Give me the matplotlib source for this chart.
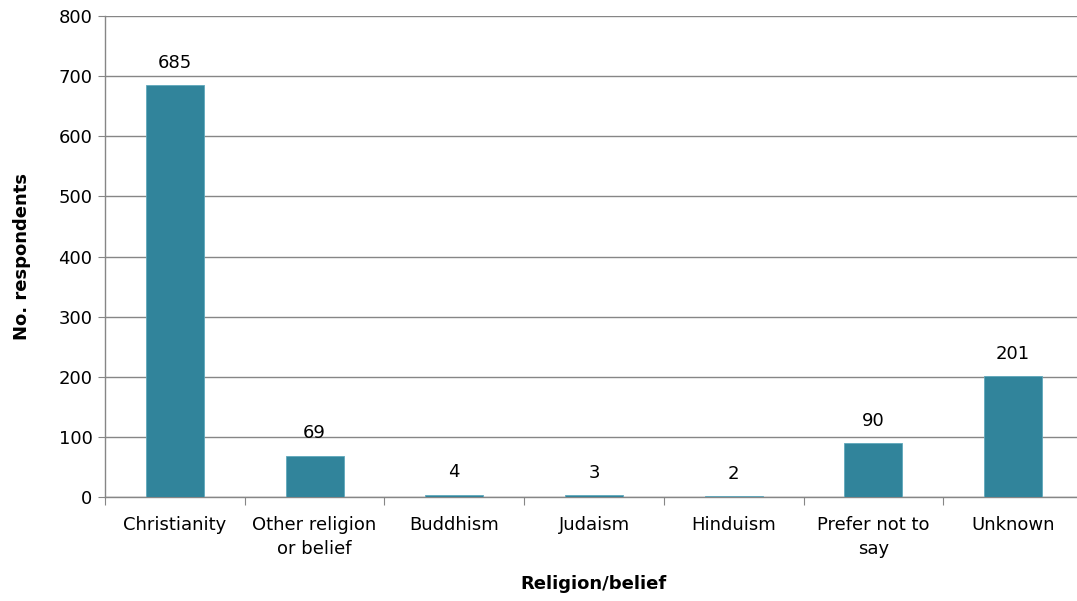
import matplotlib
matplotlib.use("Agg")
import matplotlib.pyplot as plt
import numpy as np

categories = ["Christianity", "Other religion\nor belief", "Buddhism", "Judaism",
              "Hinduism", "Prefer not to\nsay", "Unknown"]
respondents = [685, 69, 4, 3, 2, 90, 201]
y_ticks = [0, 100, 200, 300, 400, 500, 600, 700, 800]

plt.rcParams["font.family"] = ["DejaVu Sans"]

fig = plt.figure(figsize=(10.77, 6.01), dpi=100)
left = 105 / 1077
right = 1083 / 1077
ax = fig.add_axes([left, 1 - 497 / 601, right - left, (497 - 16) / 601])

x = np.arange(len(categories))
bar_color = "#31849B"
bars = ax.bar(x, respondents, width=0.415, color=bar_color, edgecolor="#5FA8BC",
              linewidth=0.6, zorder=3)
for xi, v in zip(x, respondents):
    ax.text(xi, v + 22, str(v), ha="center", va="bottom", fontsize=13, color="black")

ax.set_xlim(-0.5, len(categories) - 0.5)
ax.set_ylim(0, 800)
ax.set_yticks(y_ticks)
ax.tick_params(axis="y", labelsize=13, length=5, color="#868686", pad=4)
ax.grid(axis="y", color="#868686", linewidth=1.0, zorder=0)

# category boundaries carry tick marks, labels sit between them
ax.set_xticks(np.arange(len(categories) + 1) - 0.5)
ax.set_xticklabels([])
ax.set_xticks(x, minor=True)
ax.set_xticklabels(categories, minor=True, fontsize=13, linespacing=1.4)
ax.tick_params(axis="x", which="major", length=6, color="#868686")
ax.tick_params(axis="x", which="minor", length=0, pad=14)

for s in ["top", "right"]:
    ax.spines[s].set_visible(False)
for s in ["left", "bottom"]:
    ax.spines[s].set_color("#868686")
    ax.spines[s].set_linewidth(1.0)

ax.set_ylabel("No. respondents", fontsize=13, fontweight="bold", labelpad=20)
ax.set_xlabel("Religion/belief", fontsize=13, fontweight="bold", labelpad=12)

fig.savefig("out.png", dpi=100)
